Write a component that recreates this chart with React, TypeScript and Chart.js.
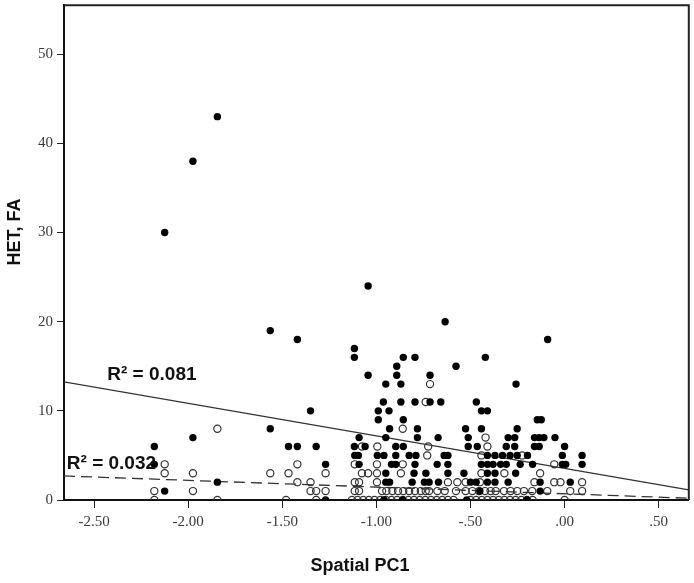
import React, { useEffect, useRef } from "react";
import { Chart, registerables } from "chart.js";

Chart.register(...registerables);

const xTicks = [-2.5, -2.0, -1.5, -1.0, -0.5, 0.0, 0.5];
const yTicks = [0, 10, 20, 30, 40, 50];
const xRange = [-2.66, 0.66];
const yRange = [0, 55.5];

const filledX = [
  -1.845, -1.975, -2.125, -1.044, -0.635, -1.564, -1.42, -0.09, -1.117, -1.117,
  -0.857, -0.795, -0.421, -0.892, -0.577, -1.044, -0.892, -0.715, -0.95, -0.87,
  -0.258, -0.963, -0.87, -0.795, -0.715, -0.658, -0.469, -1.35, -0.99, -0.933,
  -0.442, -0.41, -0.99, -0.857, -0.145, -0.124, -1.564, -0.93, -0.782, -0.526,
  -0.442, -0.252, -1.975, -1.092, -0.95, -0.782, -0.672, -0.512, -0.3, -0.265,
  -0.16, -0.135, -0.11, -0.051,
  -2.18, -1.467, -1.42, -1.32, -1.117, -1.06, -0.897, -0.857, -0.512, -0.464,
  -0.31, -0.265, -0.16, -0.135, 0.0,
  -1.115, -1.096, -0.995, -0.96, -0.897, -0.826, -0.79, -0.64, -0.62, -0.41,
  -0.37, -0.33, -0.29, -0.252, -0.197, -0.012, 0.093,
  -2.18, -1.27, -1.092, -0.92, -0.897, -0.795, -0.677, -0.62, -0.442, -0.41,
  -0.38, -0.34, -0.31, -0.236, -0.17, -0.012, 0.006, 0.093,
  -0.95, -0.8, -0.737, -0.62, -0.535, -0.41, -0.37, -0.26,
  -1.845, -0.95, -0.93, -0.81, -0.745, -0.72, -0.67, -0.5, -0.47, -0.41,
  -0.37, -0.3, -0.13, 0.03,
  -2.125, -0.45, -0.13,
  -1.27, -0.96, -0.86, -0.52, -0.2,
];
const filledY = [
  43, 38, 30, 24, 20, 19, 18, 18, 17, 16,
  16, 16, 16, 15, 15, 14, 14, 14, 13, 13,
  13, 11, 11, 11, 11, 11, 11, 10, 10, 10,
  10, 10, 9, 9, 9, 9, 8, 8, 8, 8,
  8, 8, 7, 7, 7, 7, 7, 7, 7, 7,
  7, 7, 7, 7,
  6, 6, 6, 6, 6, 6, 6, 6, 6, 6,
  6, 6, 6, 6, 6,
  5, 5, 5, 5, 5, 5, 5, 5, 5, 5,
  5, 5, 5, 5, 5, 5, 5,
  4, 4, 4, 4, 4, 4, 4, 4, 4, 4,
  4, 4, 4, 4, 4, 4, 4, 4,
  3, 3, 3, 3, 3, 3, 3, 3,
  2, 2, 2, 2, 2, 2, 2, 2, 2, 2,
  2, 2, 2, 2,
  1, 1, 1,
  0, 0, 0, 0, 0,
];

const openX = [
  -1.845, -0.715, -0.738, -0.86, -0.42,
  -1.077, -0.995, -0.725, -0.41,
  -0.73, -0.442, -0.226,
  -2.125, -1.42, -1.115, -0.997, -0.86, -0.055,
  -2.125, -1.975, -1.564, -1.467, -1.27, -1.077, -1.044, -0.997, -0.87, -0.442,
  -0.32, -0.13,
  -1.42, -1.35, -1.115, -1.092, -0.997, -0.62, -0.57, -0.526, -0.45, -0.16,
  -0.055, -0.022, 0.093,
  -2.18, -1.975, -1.35, -1.32, -1.27, -1.115, -1.092, -0.97, -0.947, -0.915,
  -0.885, -0.857, -0.826, -0.795, -0.764, -0.738, -0.72, -0.676, -0.637, -0.577,
  -0.526, -0.49, -0.455, -0.423, -0.393, -0.366, -0.322, -0.287, -0.252, -0.216,
  -0.172, -0.092, 0.03, 0.093,
  -2.18, -1.845, -1.48, -1.32, -1.13, -1.1, -1.07, -1.04, -1.01, -0.98,
  -0.95, -0.92, -0.89, -0.86, -0.83, -0.8, -0.77, -0.74, -0.71, -0.68,
  -0.65, -0.62, -0.59, -0.5, -0.47, -0.44, -0.41, -0.38, -0.35, -0.32,
  -0.29, -0.26, -0.23, -0.2, -0.17, 0.0,
];
const openY = [
  8, 13, 11, 8, 7,
  6, 6, 6, 6,
  5, 5, 5,
  4, 4, 4, 4, 4, 4,
  3, 3, 3, 3, 3, 3, 3, 3, 3, 3,
  3, 3,
  2, 2, 2, 2, 2, 2, 2, 2, 2, 2,
  2, 2, 2,
  1, 1, 1, 1, 1, 1, 1, 1, 1, 1,
  1, 1, 1, 1, 1, 1, 1, 1, 1, 1,
  1, 1, 1, 1, 1, 1, 1, 1, 1, 1,
  1, 1, 1, 1,
  0, 0, 0, 0, 0, 0, 0, 0, 0, 0,
  0, 0, 0, 0, 0, 0, 0, 0, 0, 0,
  0, 0, 0, 0, 0, 0, 0, 0, 0, 0,
  0, 0, 0, 0, 0, 0,
];

const fitX = [-2.66, 0.66];
const fitSolidY = [13.25, 1.13];
const fitDashedY = [2.7, 0.2];

const r2Texts = ["R\u00B2 = 0.081", "R\u00B2 = 0.032"];
const r2AnchorX = [-2.43, -2.645];
const r2AnchorY = [13.5, 3.45];

const xTitle = "Spatial PC1";
const yTitle = "HET, FA";

const fmtX = (v: number) => {
  const s = Math.abs(v).toFixed(2).replace(/^0/, "");
  return (v < 0 ? "-" : "") + s;
};

const overlay = {
  id: "overlay",
  afterDraw(chart: any) {
    const { ctx, chartArea: a, scales } = chart;
    ctx.save();
    ctx.strokeStyle = "#222";
    ctx.lineWidth = 2;
    ctx.beginPath();
    ctx.moveTo(a.left, a.top);
    ctx.lineTo(a.right, a.top);
    ctx.lineTo(a.right, a.bottom);
    ctx.stroke();

    ctx.fillStyle = "#111";
    ctx.font = 'bold 19px "Liberation Sans", Arial, sans-serif';
    ctx.textAlign = "left";
    ctx.textBaseline = "alphabetic";
    r2Texts.forEach((t, i) => {
      const px = scales.x.getPixelForValue(r2AnchorX[i]);
      const py = scales.y.getPixelForValue(r2AnchorY[i]);
      ctx.fillText(t, px, py);
    });

    ctx.fillStyle = "#111";
    ctx.font = 'bold 18px "Liberation Sans", Arial, sans-serif';
    ctx.textAlign = "center";
    ctx.textBaseline = "middle";
    ctx.fillText(xTitle, 360, 566);
    ctx.translate(15, 232);
    ctx.rotate(-Math.PI / 2);
    ctx.fillText(yTitle, 0, 0);
    ctx.restore();
  },
};

export default function App() {
  const ref = useRef<HTMLCanvasElement | null>(null);
  useEffect(() => {
    if (!ref.current) return;
    const chart = new Chart(ref.current, {
      type: "scatter",
      data: {
        datasets: [
          {
            type: "line",
            data: fitX.map((x, i) => ({ x, y: fitSolidY[i] })),
            borderColor: "#333",
            borderWidth: 1.3,
            pointRadius: 0,
            order: 5,
          } as any,
          {
            type: "line",
            data: fitX.map((x, i) => ({ x, y: fitDashedY[i] })),
            borderColor: "#333",
            borderWidth: 1.3,
            borderDash: [11, 6],
            pointRadius: 0,
            order: 4,
          } as any,
          {
            data: openX.map((x, i) => ({ x, y: openY[i] })),
            pointRadius: 3.6,
            pointBackgroundColor: "rgba(255,255,255,0)",
            pointBorderColor: "#333",
            pointBorderWidth: 1.2,
            clip: 0,
            order: 2,
          } as any,
          {
            data: filledX.map((x, i) => ({ x, y: filledY[i] })),
            pointRadius: 3.7,
            pointBackgroundColor: "#000",
            pointBorderColor: "#000",
            pointBorderWidth: 0,
            clip: 0,
            order: 1,
          } as any,
        ],
      },
      options: {
        animation: false,
        responsive: false,
        devicePixelRatio: 1,
        layout: { padding: { top: 4, right: 4, left: 0, bottom: 0 } },
        plugins: { legend: { display: false }, tooltip: { enabled: false } },
        scales: {
          x: {
            type: "linear",
            min: xRange[0],
            max: xRange[1],
            afterBuildTicks: (s: any) => {
              s.ticks = xTicks.map((v) => ({ value: v }));
            },
            afterFit: (s: any) => {
              s.height = 83;
              s.paddingLeft = 0;
              s.paddingRight = 0;
            },
            ticks: {
              autoSkip: false,
              maxRotation: 0,
              padding: 5,
              color: "#3a3a3a",
              font: { family: '"Liberation Serif", "Times New Roman", serif', size: 15 },
              callback: (v: any) => fmtX(Number(v)),
            },
            grid: { drawOnChartArea: false, drawTicks: true, tickLength: 8, color: "#222", lineWidth: 1 },
            border: { display: true, color: "#111", width: 2 },
          },
          y: {
            type: "linear",
            min: yRange[0],
            max: yRange[1],
            afterBuildTicks: (s: any) => {
              s.ticks = yTicks.map((v) => ({ value: v }));
            },
            afterFit: (s: any) => {
              s.width = 64;
              s.paddingTop = 0;
              s.paddingBottom = 0;
            },
            ticks: {
              autoSkip: false,
              padding: 4,
              color: "#3a3a3a",
              font: { family: '"Liberation Serif", "Times New Roman", serif', size: 15 },
              callback: (v: any) => String(v),
            },
            grid: { drawOnChartArea: false, drawTicks: true, tickLength: 7, color: "#222", lineWidth: 1 },
            border: { display: true, color: "#111", width: 2 },
          },
        },
      },
      plugins: [overlay],
    } as any);
    return () => chart.destroy();
  }, []);
  return (
    <div style={{ position: "absolute", left: 0, top: 0, width: 694, height: 583, background: "#fff" }}>
      <canvas ref={ref} width={694} height={583} style={{ display: "block", width: 694, height: 583 }} />
    </div>
  );
}
